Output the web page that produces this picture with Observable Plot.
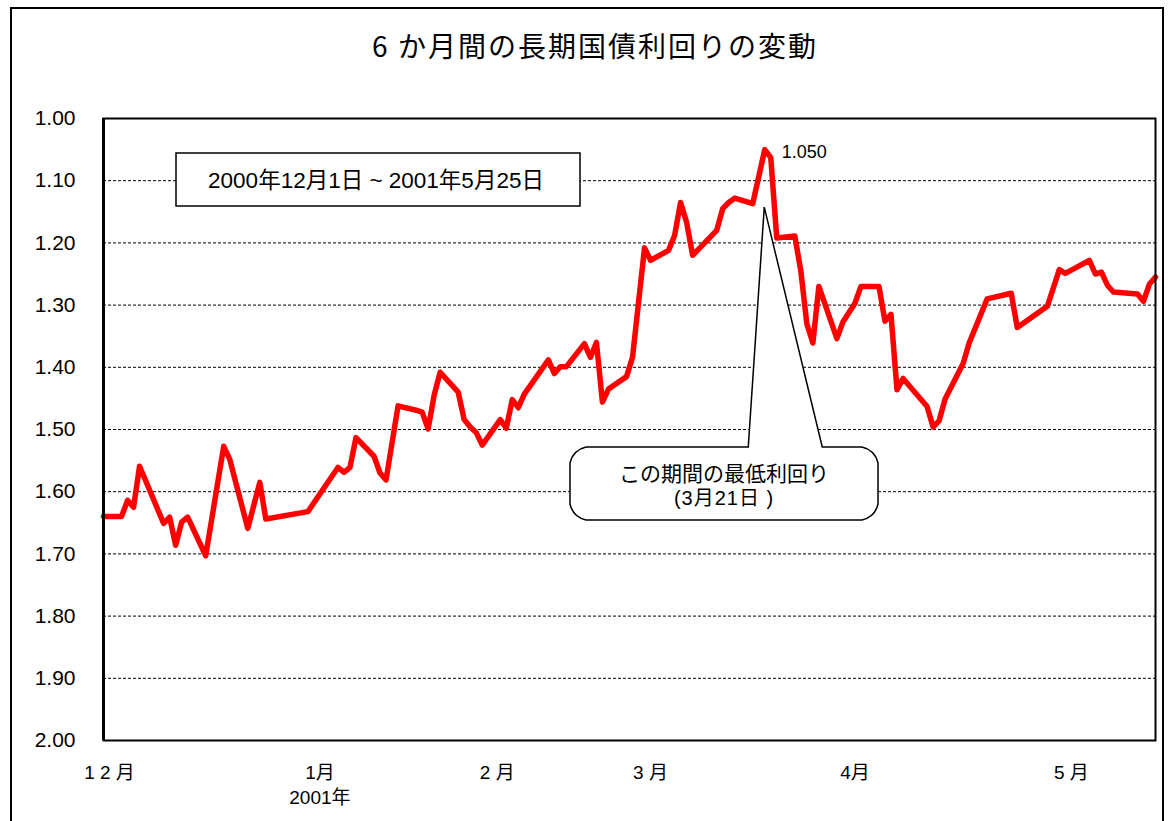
<!DOCTYPE html>
<html>
<head>
<meta charset="utf-8">
<script src="https://cdn.jsdelivr.net/npm/d3@7"></script>
<script src="https://cdn.jsdelivr.net/npm/@observablehq/plot@0.6"></script>
<style>
  body { margin: 0; background: #fff; }
  #page { position: relative; width: 1168px; height: 821px; overflow: hidden; background: #fff;
          font-family: "Liberation Sans", "Noto Sans CJK JP", sans-serif; }
  #frame { position: absolute; left: 10px; top: 7px; width: 1154px; height: 840px;
           border: 2px solid #000; box-sizing: border-box; }
  #title { position: absolute; left: 0; width: 1190px; top: 25px; text-align: center;
           font-family: "Noto Sans CJK JP", sans-serif; font-size: 28px; letter-spacing: 2px; color: #000; }
  #chart { position: absolute; left: 0; top: 100px; }
</style>
</head>
<body>
<div id="page">
  <div id="frame"></div>
  <div id="title">6 か月間の長期国債利回りの変動</div>
  <div id="chart"></div>
</div>
<script>
// ---- data ----
const dates = [
  "2000-12-01","2000-12-04","2000-12-05","2000-12-06","2000-12-07","2000-12-11","2000-12-12","2000-12-13",
  "2000-12-14","2000-12-15","2000-12-18","2000-12-21","2000-12-22","2000-12-25","2000-12-27","2000-12-28",
  "2001-01-04","2001-01-09","2001-01-10","2001-01-11","2001-01-12","2001-01-15","2001-01-16","2001-01-17",
  "2001-01-19","2001-01-22","2001-01-23","2001-01-24","2001-01-25","2001-01-26","2001-01-29","2001-01-30",
  "2001-01-31","2001-02-01","2001-02-02","2001-02-05","2001-02-06","2001-02-07","2001-02-08","2001-02-09",
  "2001-02-13","2001-02-14","2001-02-15","2001-02-16","2001-02-19","2001-02-20","2001-02-21","2001-02-22",
  "2001-02-23","2001-02-26","2001-02-27","2001-03-01","2001-03-02","2001-03-05","2001-03-06","2001-03-07",
  "2001-03-08","2001-03-09","2001-03-13","2001-03-14","2001-03-15","2001-03-16","2001-03-19","2001-03-21",
  "2001-03-22","2001-03-23","2001-03-26","2001-03-27","2001-03-28","2001-03-29","2001-03-30","2001-04-02",
  "2001-04-03","2001-04-05","2001-04-06","2001-04-09","2001-04-10","2001-04-11","2001-04-12","2001-04-13",
  "2001-04-17","2001-04-18","2001-04-19","2001-04-20","2001-04-23","2001-04-24","2001-04-27","2001-05-01",
  "2001-05-02","2001-05-07","2001-05-09","2001-05-10","2001-05-14","2001-05-15","2001-05-16","2001-05-17",
  "2001-05-18","2001-05-22","2001-05-23","2001-05-24","2001-05-25"
];
const yields = [
  1.640,1.640,1.614,1.625,1.559,1.651,1.641,1.686,
  1.649,1.641,1.703,1.527,1.548,1.659,1.585,1.644,
  1.632,1.561,1.569,1.561,1.513,1.543,1.570,1.581,
  1.462,1.469,1.472,1.499,1.445,1.408,1.440,1.484,
  1.496,1.505,1.525,1.484,1.498,1.452,1.465,1.443,
  1.388,1.410,1.399,1.399,1.362,1.384,1.360,1.456,
  1.435,1.415,1.384,1.208,1.228,1.212,1.188,1.135,
  1.167,1.220,1.180,1.145,1.135,1.128,1.137,1.050,
  1.063,1.192,1.189,1.245,1.330,1.361,1.270,1.354,
  1.327,1.297,1.270,1.270,1.326,1.315,1.436,1.418,
  1.463,1.496,1.486,1.451,1.394,1.361,1.290,1.281,
  1.336,1.302,1.243,1.249,1.228,1.250,1.247,1.268,
  1.279,1.282,1.294,1.266,1.255
];
const yTicks = [1.00,1.10,1.20,1.30,1.40,1.50,1.60,1.70,1.80,1.90,2.00];
const monthTickDates = ["2000-12-02","2001-01-06","2001-02-04T12:00","2001-03-02","2001-04-05","2001-05-11"];
const monthTickLabels = ["1 2 月","1月\n2001年","2 月","3 月","4月","5 月"];
const rangeText = "2000年12月1日 ~ 2001年5月25日";
const calloutLines = ["この期間の最低利回り","(3月21日 )"];
const peakLabel = "1.050";
const xDomain = ["2000-12-01","2001-05-25"];

// ---- build ----
const parse = s => new Date(s.length > 10 ? s + "Z" : s + "T00:00Z");
const series = dates.map((d, i) => ({date: parse(d), value: yields[i]}));
const monthTicks = monthTickDates.map((d, i) => ({date: parse(d), label: monthTickLabels[i]}));
const iMin = d3.minIndex(yields);
const peak = series[iMin];

function annotations(index, scales, values, dim) {
  const sx = scales.x, sy = scales.y;
  const g = d3.create("svg:g");
  // period text box
  const bx = 176, by = 53, bw = 404, bh = 53;
  g.append("rect").attr("x", bx).attr("y", by).attr("width", bw).attr("height", bh)
    .attr("fill", "#fff").attr("stroke", "#000").attr("stroke-width", 1.5);
  g.append("text").attr("x", bx + bw / 2 - 2).attr("y", by + bh / 2).attr("dy", "0.36em")
    .attr("text-anchor", "middle").attr("font-size", 22.5).attr("fill", "#000")
    .text(rangeText);
  // callout
  const px = sx(peak.date), py = sy(peak.value);
  const tipX = px, tipY = py + 58;
  const L = 570, T = 347, R = 878, B = 420, r = 16;
  const b1 = px - 16, b2 = px + 58;
  const path = `M${L + r},${T} L${b1},${T} L${tipX},${tipY} L${b2},${T} L${R - r},${T}
    Q${R - 3},${T + 3} ${R},${T + r} L${R},${B - r} Q${R - 3},${B - 3} ${R - r},${B}
    L${L + r},${B} Q${L + 3},${B - 3} ${L},${B - r} L${L},${T + r} Q${L + 3},${T + 3} ${L + r},${T} Z`;
  g.append("path").attr("d", path).attr("fill", "#fff").attr("stroke", "#000").attr("stroke-width", 1.5);
  const cx = (L + R) / 2;
  g.append("text").attr("x", cx).attr("y", T + 26).attr("dy", "0.36em").attr("text-anchor", "middle")
    .attr("font-size", 21).attr("fill", "#000").text(calloutLines[0]);
  g.append("text").attr("x", cx).attr("y", T + 51).attr("dy", "0.36em").attr("text-anchor", "middle")
    .attr("font-size", 20).attr("letter-spacing", 1).attr("fill", "#000").text(calloutLines[1]);
  return g.node();
}

const plot = Plot.plot({
  width: 1168,
  height: 721,
  marginLeft: 103,
  marginRight: 13,
  marginTop: 18,
  marginBottom: 81,
  style: {fontFamily: '"Liberation Sans", "Noto Sans CJK JP", sans-serif', fontSize: "18px", color: "#000", background: "transparent"},
  x: {type: "utc", domain: xDomain.map(parse), axis: null},
  y: {domain: [1, 2], reverse: true},
  marks: [
    Plot.gridY(yTicks.slice(1, -1), {stroke: "#000", strokeOpacity: 1, strokeWidth: 1, strokeDasharray: "3,2"}),
    annotations,
    Plot.line(series, {x: "date", y: "value", stroke: "#ff0000", strokeWidth: 5.5, strokeLinejoin: "round", strokeLinecap: "round"}),
    Plot.text([peak], {x: "date", y: "value", text: () => peakLabel, dx: 17, dy: 3, textAnchor: "start", fontSize: 18, letterSpacing: 2.5}),
    Plot.frame({stroke: "#000", strokeWidth: 2}),
    Plot.ruleX([parse(xDomain[0])], {stroke: "#000", strokeWidth: 3}),
    Plot.axisY(yTicks, {tickFormat: d => d.toFixed(2), tickSize: 0, tickPadding: 28, fontSize: 21, letterSpacing: 2.5, label: null}),
    Plot.text(monthTicks, {x: "date", text: "label", frameAnchor: "bottom", lineAnchor: "top", dy: 20, fontSize: 19, lineHeight: 1.35})
  ]
});
document.getElementById("chart").appendChild(plot);
</script>
</body>
</html>
